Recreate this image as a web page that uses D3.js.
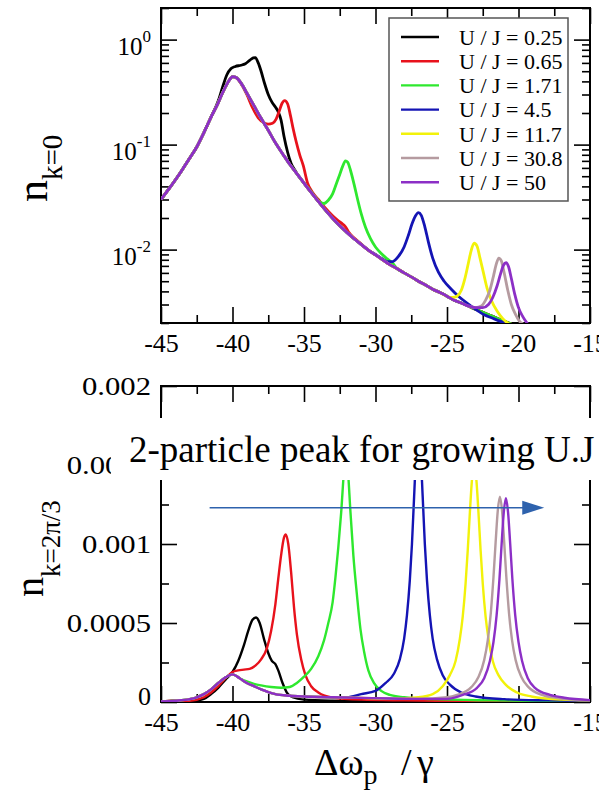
<!DOCTYPE html>
<html>
<head>
<meta charset="utf-8">
<script src="https://cdnjs.cloudflare.com/ajax/libs/d3/7.8.5/d3.min.js"></script>
<style>
  body { margin: 0; background: #fff; }
  svg { display: block; background: #fff; }
  .tick line { stroke: #000; stroke-width: 1.6; }
  .frame { fill: none; stroke: #000; stroke-width: 2; }
</style>
</head>
<body>
<div class="container"></div>
<script>
// ---------- DATA ----------
var labels = ["U / J = 0.25", "U / J = 0.65", "U / J = 1.71", "U / J = 4.5", "U / J = 11.7", "U / J = 30.8", "U / J = 50"]
var colors = ["#000000", "#e8121c", "#2ee82e", "#1414b4", "#f2f20a", "#b59ba0", "#8c2fc6"]

var xMajor = [-45, -40, -35, -30, -25, -20, -15]
var xMinor = [-42.5, -37.5, -32.5, -27.5, -22.5, -17.5]
var topDecades = [1, 0.1, 0.01]
var topExponents = ["0", "-1", "-2"]
var botMajor = [0, 0.0005, 0.001, 0.0015, 0.002]
var botLabels = ["0", "0.0005", "0.001", "0.0015", "0.002"]
var botMinor = [0.00025, 0.00075, 0.00125, 0.00175]

// n_{k=0}: curve shared by all U/J, each series below replaces a piece of it
var topBase = [[-45,0.030],[-44.5,0.037],[-44,0.046],[-43.5,0.058],[-43,0.074],[-42.5,0.095],[-42,0.13],[-41.5,0.183],
  [-41,0.25],[-40.7,0.31],[-40.4,0.375],[-40.15,0.425],[-40,0.445],[-39.75,0.435],[-39.4,0.385],[-39,0.31],[-38.5,0.235],
  [-38,0.178],[-37.5,0.137],[-37,0.104],[-36.5,0.082],[-36,0.065],[-35.5,0.053],[-35,0.043],[-34.5,0.035],[-34,0.0288],
  [-33.5,0.0238],[-33,0.0199],[-32.5,0.0169],[-32,0.0146],[-31.5,0.0127],[-31,0.0112],[-30.5,0.0099],[-30,0.0089],
  [-29.5,0.0080],[-29,0.0072],[-28.5,0.0066],[-28,0.0060],[-27.5,0.0055],[-27,0.0050],[-26.5,0.0046],[-26,0.0042],
  [-25.5,0.0039],[-25,0.0036],[-24.5,0.0033],[-24,0.0031],[-23.5,0.0029],[-23,0.0027],[-22.5,0.00253],[-22,0.00237],
  [-21.5,0.00222],[-21,0.00208],[-20.5,0.00195],[-20,0.00183],[-19.5,0.00172]]

var top025 = [[-41,0.26],[-40.7,0.35],[-40.4,0.46],[-40.1,0.53],[-39.8,0.555],[-39.4,0.57],[-39.1,0.59],[-38.8,0.635],
  [-38.55,0.67],[-38.4,0.675],[-38.2,0.6],[-38,0.5],[-37.75,0.38],[-37.5,0.3],[-37.25,0.255],[-37,0.228],[-36.8,0.205],
  [-36.6,0.17],[-36.4,0.12],[-36.15,0.085],[-35.9,0.066],[-35.6,0.056]]
var top065 = [[-39.7,0.43],[-39.4,0.38],[-39,0.3],[-38.6,0.225],[-38.2,0.18],[-37.8,0.162],[-37.5,0.157],[-37.2,0.16],
  [-36.95,0.175],[-36.75,0.205],[-36.55,0.245],[-36.35,0.262],[-36.15,0.245],[-35.95,0.19],[-35.75,0.14],[-35.55,0.107],
  [-35.3,0.08],[-35.05,0.063],[-34.75,0.043],[-34.4,0.035],[-34,0.030],[-33.5,0.0248],[-33,0.021],[-32.6,0.0188],
  [-32.3,0.0175],[-32.1,0.0165],[-31.85,0.0145],[-31.55,0.0131],[-31.2,0.0119],[-30.8,0.0107]]
var top171 = [[-34.6,0.037],[-34.2,0.0315],[-33.9,0.0285],[-33.6,0.0275],[-33.3,0.0295],[-33,0.034],[-32.75,0.042],
  [-32.5,0.052],[-32.3,0.062],[-32.1,0.07],[-31.95,0.068],[-31.75,0.057],[-31.5,0.042],[-31.25,0.030],[-31,0.022],
  [-30.7,0.0163],[-30.35,0.0127],[-30,0.0106],[-29.6,0.0092],[-29.2,0.0082],[-28.8,0.0074]]
var top45 = [[-30,0.0090],[-29.6,0.0083],[-29.2,0.0077],[-28.8,0.0077],[-28.4,0.0086],[-28,0.0106],[-27.7,0.0137],
  [-27.45,0.0175],[-27.2,0.021],[-27,0.0225],[-26.8,0.0212],[-26.55,0.0165],[-26.3,0.0118],[-26,0.0083],[-25.6,0.0061],
  [-25.2,0.0050],[-24.7,0.0042],[-24.2,0.0036],[-23.6,0.0031],[-23,0.0027],[-22.4,0.0024],[-21.8,0.00222],
  [-21.2,0.00206],[-20.6,0.00193],[-20,0.0018]]
var top117 = [[-25,0.0036],[-24.6,0.0035],[-24.3,0.0036],[-24,0.0041],[-23.75,0.0053],[-23.5,0.0075],[-23.3,0.0099],
  [-23.1,0.0115],[-22.9,0.0108],[-22.7,0.0084],[-22.45,0.0060],[-22.2,0.0043],[-21.9,0.0033],[-21.5,0.0026],
  [-21.1,0.0022],[-20.7,0.00197],[-20.3,0.00185]]
var top308 = [[-23.5,0.0029],[-23,0.0028],[-22.6,0.0029],[-22.3,0.0033],[-22,0.0041],[-21.75,0.0056],[-21.55,0.0073],
  [-21.38,0.0083],[-21.2,0.0078],[-21,0.0060],[-20.75,0.0041],[-20.5,0.0030],[-20.2,0.0024],[-19.9,0.00205],[-19.6,0.0019]]
var top50 = [[-23,0.0028],[-22.5,0.0028],[-22.1,0.0030],[-21.8,0.0035],[-21.5,0.0045],[-21.25,0.0059],[-21.05,0.0071],
  [-20.87,0.0075],[-20.7,0.0069],[-20.5,0.0053],[-20.25,0.0037],[-20,0.0028],[-19.7,0.0023],[-19.4,0.0020],[-19.1,0.0018]]

// n_{k=2pi/3}
var botBase = [[-45,0.000003],[-44,0.000008],[-43,0.000018],[-42.5,0.00003],[-42,0.00005],[-41.5,0.00008],[-41,0.00012],
  [-40.5,0.000155],[-40,0.000175],[-39.5,0.00015],[-39,0.00012],[-38.5,0.0001],[-38,0.00008],[-37,0.00005],[-36,0.00004],
  [-35,0.000035],[-33,0.00003],[-31,0.000026],[-29,0.000022],[-27,0.00002],[-25,0.000018],[-23,0.000016],[-21,0.000014],
  [-19,0.000012],[-17,0.00001],[-15,0.00001]]

var bot025 = [[-43,0.000005],[-42,0.00002],[-41.5,0.00005],[-41,0.00009],[-40.5,0.00014],[-40,0.00019],[-39.6,0.00026],
  [-39.2,0.00036],[-38.9,0.00045],[-38.6,0.00052],[-38.35,0.000535],[-38.1,0.0005],[-37.8,0.0004],[-37.5,0.00031],
  [-37.25,0.00026],[-37,0.00024],[-36.8,0.0002],[-36.5,0.00012],[-36.2,0.00006],[-35.8,0.00003],[-35,0.000015],
  [-33,0.000008],[-30,0.000005],[-25,0.000004],[-15,0.000002]]
var bot065 = [[-43,0.000008],[-42,0.00003],[-41.5,0.00006],[-41,0.0001],[-40.5,0.00015],[-40,0.00019],[-39.6,0.0002],
  [-39.2,0.000205],[-38.8,0.00021],[-38.4,0.00023],[-38,0.00027],[-37.6,0.00034],[-37.3,0.00045],[-37,0.00062],
  [-36.8,0.00078],[-36.6,0.00093],[-36.4,0.00104],[-36.27,0.00106],[-36.1,0.001],[-35.9,0.00082],[-35.7,0.0006],
  [-35.5,0.00043],[-35.2,0.00027],[-34.9,0.00017],[-34.5,0.0001],[-34,0.00006],[-33,0.000028],[-31,0.000015],
  [-28,0.00001],[-24,0.000006],[-15,0.000003]]
var bot171 = [[-40,0.000175],[-39.5,0.00015],[-39,0.00013],[-38.5,0.000115],[-38,0.000105],[-37.3,0.000095],
  [-36.6,0.00009],[-36,0.000095],[-35.5,0.00012],[-35,0.00016],[-34.5,0.00021],[-34,0.00029],[-33.6,0.00039],
  [-33.3,0.0005],[-33,0.00063],[-32.8,0.00079],[-32.6,0.00098],[-32.4,0.0012],[-32.2,0.00147],[-32.07,0.0016],
  [-31.93,0.00147],[-31.75,0.0012],[-31.55,0.00093],[-31.3,0.00068],[-31.05,0.00046],[-30.8,0.00032],[-30.5,0.0002],
  [-30.1,0.00012],[-29.6,0.00007],[-29,0.000045],[-28,0.00003],[-26,0.000018],[-22,0.00001],[-15,0.000005]]
var bot45 = [[-32,0.00003],[-31,0.00005],[-30,0.00007],[-29.3,0.00012],[-28.7,0.00018],[-28.3,0.00027],[-28,0.0004],
  [-27.8,0.00055],[-27.6,0.00077],[-27.45,0.001],[-27.3,0.0013],[-27.15,0.00158],[-27,0.0017],[-26.85,0.00158],
  [-26.7,0.0013],[-26.55,0.001],[-26.4,0.00077],[-26.2,0.00055],[-26,0.0004],[-25.7,0.00027],[-25.3,0.00017],
  [-24.8,0.00011],[-24,0.00006],[-23,0.000035],[-21,0.000018],[-18,0.00001],[-15,0.000006]]
var bot117 = [[-29,0.00002],[-27,0.00003],[-26,0.00005],[-25.3,0.0001],[-24.8,0.00017],[-24.4,0.00026],[-24.1,0.0004],
  [-23.9,0.00054],[-23.7,0.00075],[-23.55,0.00096],[-23.4,0.0012],[-23.25,0.00141],[-23.1,0.0015],[-22.95,0.00141],
  [-22.8,0.0012],[-22.65,0.00096],[-22.5,0.00075],[-22.3,0.00054],[-22.1,0.0004],[-21.8,0.00026],[-21.4,0.00017],
  [-20.9,0.00011],[-20.1,0.00006],[-19.1,0.000035],[-17,0.000015],[-15,0.00001]]
var bot308 = [[-25,0.00003],[-24.3,0.000045],[-23.3,0.000094],[-22.8,0.000158],[-22.4,0.000265],[-22.15,0.00039],
  [-21.94,0.00056],[-21.75,0.00079],[-21.6,0.00101],[-21.45,0.00121],[-21.3,0.0013],[-21.15,0.00121],[-21,0.00101],
  [-20.85,0.00079],[-20.66,0.00056],[-20.45,0.00039],[-20.2,0.000265],[-19.8,0.000158],[-19.3,0.000094],
  [-18.3,0.000043],[-17.3,0.000025],[-15,0.00001]]
var bot50 = [[-25,0.00002],[-23.9,0.000045],[-22.9,0.00009],[-22.4,0.00015],[-22,0.00026],[-21.75,0.00038],
  [-21.53,0.00055],[-21.33,0.00078],[-21.18,0.001],[-21.03,0.0012],[-20.88,0.00129],[-20.73,0.0012],[-20.58,0.001],
  [-20.43,0.00078],[-20.23,0.00055],[-20,0.00038],[-19.75,0.00026],[-19.35,0.00015],[-18.85,0.00009],
  [-17.8,0.000045],[-16.8,0.000027],[-15,0.000012]]

// arrow annotation, in data units of the lower panel
var arrowFrom = -41.6, arrowTo = -18.2, arrowY = 0.00123

// ---------- LAYOUT ----------
var width = 616, height = 792
var left = 161, right = 590
var topPanel = { top: 8, bottom: 323 }
var botPanel = { top: 386, bottom: 702 }
var note = { x: 111, top: 418, bottom: 480 }
var serif = "Liberation Serif"

var svg = d3.select(".container").append("svg")
  .attr("width", width)
  .attr("height", height)
  .style("font-family", serif)

var x = d3.scaleLinear().domain([-45, -15]).range([left, right])
var yTop = d3.scaleLog().domain([0.002, 2]).range([topPanel.bottom, topPanel.top])
var yBot = d3.scaleLinear().domain([0, 0.002]).range([botPanel.bottom, botPanel.top])

function withBase(base, seg) {
  var lo = seg[0][0], hi = seg[seg.length - 1][0]
  return base.filter(function(p) { return p[0] < lo })
    .concat(seg, base.filter(function(p) { return p[0] > hi }))
}

var topSeries = [top025, top065, top171, top45, top117, top308, top50].map(function(s) { return withBase(topBase, s) })
var botSeries = [bot025, bot065, bot171, bot45, bot117, bot308, bot50].map(function(s) { return withBase(botBase, s) })

var fmt = function(d) { return String(d) }

function label(sel, size) {
  return sel.style("font-family", serif).style("font-size", size + "px").attr("fill", "#000")
}

function clean(g) {
  g.select(".domain").remove()
  g.attr("font-family", null).attr("font-size", null)
  label(g.selectAll("text"), 26)
  return g
}

function xTicks(y0, y1) {
  clean(svg.append("g").attr("transform", "translate(0," + y1 + ")")
    .call(d3.axisBottom(x).tickValues(xMajor).tickSize(-16).tickSizeOuter(0).tickPadding(11).tickFormat(fmt)))
  clean(svg.append("g").attr("transform", "translate(0," + y1 + ")")
    .call(d3.axisBottom(x).tickValues(xMinor).tickSize(-8).tickSizeOuter(0).tickFormat("")))
  clean(svg.append("g").attr("transform", "translate(0," + y0 + ")")
    .call(d3.axisTop(x).tickValues(xMajor).tickSize(-16).tickSizeOuter(0).tickFormat("")))
  clean(svg.append("g").attr("transform", "translate(0," + y0 + ")")
    .call(d3.axisTop(x).tickValues(xMinor).tickSize(-8).tickSizeOuter(0).tickFormat("")))
}

function yTicks(scale, major, minor, format) {
  var out = null
  ;[[d3.axisLeft, left], [d3.axisRight, right]].forEach(function(a, i) {
    var g1 = clean(svg.append("g").attr("transform", "translate(" + a[1] + ",0)")
      .call(a[0](scale).tickValues(major).tickSize(-16).tickSizeOuter(0).tickPadding(10)
        .tickFormat(i == 0 && format ? format : "")))
    if (i == 0) out = g1
    clean(svg.append("g").attr("transform", "translate(" + a[1] + ",0)")
      .call(a[0](scale).tickValues(minor).tickSize(-8).tickSizeOuter(0).tickFormat("")))
  })
  return out
}

// ---------- TOP PANEL ----------
xTicks(topPanel.top, topPanel.bottom)
var topMinor = yTop.ticks().filter(function(v) {
  var l = Math.log10(v)
  return Math.abs(l - Math.round(l)) > 1e-6
})
yTicks(yTop, topDecades, topMinor, null)

topDecades.forEach(function(d, i) {
  var t = label(svg.append("text"), 25)
    .attr("x", 151)
    .attr("y", yTop(d) + 15)
    .attr("text-anchor", "end")
  t.append("tspan").text("10")
  t.append("tspan").attr("dy", -13).style("font-size", "17px").text(topExponents[i])
})

svg.append("rect").attr("class", "frame")
  .attr("x", left).attr("y", topPanel.top)
  .attr("width", right - left).attr("height", topPanel.bottom - topPanel.top)

svg.append("clipPath").attr("id", "clipTop").append("rect")
  .attr("x", left).attr("y", topPanel.top)
  .attr("width", right - left).attr("height", topPanel.bottom - topPanel.top)

var lineTop = d3.line()
  .x(function(d) { return x(d[0]) })
  .y(function(d) { return yTop(d[1]) })
  .curve(d3.curveMonotoneX)

svg.append("g").attr("clip-path", "url(#clipTop)")
  .selectAll("path")
  .data(topSeries)
  .enter().append("path")
  .attr("d", lineTop)
  .attr("fill", "none")
  .attr("stroke", function(d, i) { return colors[i] })
  .attr("stroke-width", 2.8)
  .attr("stroke-linejoin", "round")

// legend
var legend = svg.append("g")
legend.append("rect")
  .attr("x", 389).attr("y", 18).attr("width", 179).attr("height", 183)
  .attr("fill", "#fff").attr("stroke", "#555").attr("stroke-width", 1.5)
labels.forEach(function(l, i) {
  var ly = 37 + i * 24.2
  legend.append("line")
    .attr("x1", 401).attr("x2", 439).attr("y1", ly).attr("y2", ly)
    .attr("stroke", colors[i]).attr("stroke-width", 2.4)
  label(legend.append("text"), 22)
    .attr("x", 459).attr("y", ly).attr("dy", "0.35em")
    .text(l)
})

var tl = label(svg.append("text"), 44)
  .attr("transform", "translate(47,202) rotate(-90)")
tl.append("tspan").text("n")
tl.append("tspan").attr("dy", 15).style("font-size", "29px").text("k=0")

// ---------- BOTTOM PANEL ----------
xTicks(botPanel.top, botPanel.bottom)
var botLeft = yTicks(yBot, botMajor, botMinor, function(d, i) { return botLabels[i] })
// the source labels are set a bit wider than plain Times
botLeft.selectAll(".tick text").each(function() {
  var w = this.getComputedTextLength()
  if (this.textContent.length > 1) d3.select(this).attr("textLength", w * 1.18).attr("lengthAdjust", "spacingAndGlyphs")
})
// the 0 label sits a little higher than its tick, clear of the x labels
botLeft.selectAll(".tick text").filter(function(d) { return d === 0 }).attr("dy", "0.1em")
// 0.0015 is hidden behind the note box, only its left part shows
var hidden = botLeft.selectAll(".tick").filter(function(d) { return d === 0.0015 })
hidden.append("clipPath").attr("id", "clipNoteLabel").append("rect")
  .attr("x", -left - 10).attr("y", -40).attr("width", note.x + 10).attr("height", 80)
hidden.select("text").attr("clip-path", "url(#clipNoteLabel)")

svg.append("rect").attr("class", "frame")
  .attr("x", left).attr("y", botPanel.top)
  .attr("width", right - left).attr("height", botPanel.bottom - botPanel.top)

svg.append("clipPath").attr("id", "clipBot").append("rect")
  .attr("x", left).attr("y", botPanel.top)
  .attr("width", right - left).attr("height", botPanel.bottom - botPanel.top)

var lineBot = d3.line()
  .x(function(d) { return x(d[0]) })
  .y(function(d) { return yBot(d[1]) })
  .curve(d3.curveMonotoneX)

svg.append("g").attr("clip-path", "url(#clipBot)")
  .selectAll("path")
  .data(botSeries)
  .enter().append("path")
  .attr("d", lineBot)
  .attr("fill", "none")
  .attr("stroke", function(d, i) { return colors[i] })
  .attr("stroke-width", 2.4)
  .attr("stroke-linejoin", "round")

var bl = label(svg.append("text"), 40)
  .attr("transform", "translate(43,597) rotate(-90)")
bl.append("tspan").text("n")
bl.append("tspan").attr("dy", 17).style("font-size", "27px").text("k=2π/3")

var xl = label(svg.append("text"), 38).attr("y", 775)
xl.append("tspan").attr("x", 314).text("Δω")
xl.append("tspan").attr("dy", 9).style("font-size", "28px").text("p")
xl.append("tspan").attr("x", 401).attr("dy", -9).text("/")
xl.append("tspan").attr("x", 417).text("γ")

// ---------- ANNOTATION ----------
svg.append("rect")
  .attr("x", note.x).attr("y", note.top).attr("width", width - note.x).attr("height", note.bottom - note.top)
  .attr("fill", "#fff")
label(svg.append("text"), 37)
  .attr("x", 129).attr("y", 462)
  .text("2-particle peak for growing U.J")

var ay = yBot(arrowY), ax0 = x(arrowFrom), ax1 = x(arrowTo)
svg.append("line")
  .attr("x1", ax0).attr("x2", ax1 - 20).attr("y1", ay).attr("y2", ay)
  .attr("stroke", "#2e62ad").attr("stroke-width", 1.5)
svg.append("path")
  .attr("d", "M" + (ax1 - 22) + "," + (ay - 7) + "L" + ax1 + "," + ay + "L" + (ax1 - 22) + "," + (ay + 7) + "Z")
  .attr("fill", "#2e62ad")

// the source figure is cropped on the right
svg.append("rect")
  .attr("x", 599).attr("y", 0).attr("width", width - 599).attr("height", height)
  .attr("fill", "#fff")
</script>
</body>
</html>
